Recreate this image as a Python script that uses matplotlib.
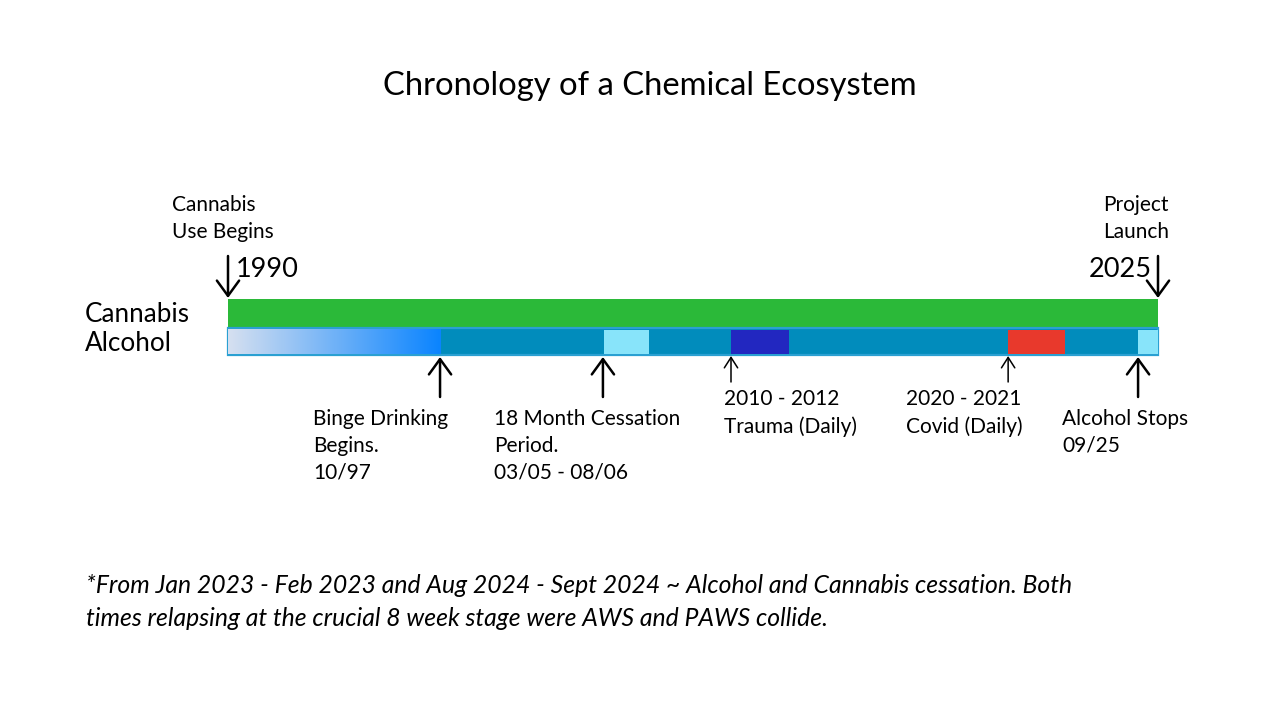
import numpy as np
import matplotlib.pyplot as plt
from matplotlib.colors import LinearSegmentedColormap

plt.rcParams['font.family'] = ['Lato', 'DejaVu Sans']

# timeline data (years)
start_year, end_year = 1990, 2025
binge_start, binge_end = 1990, 1997.98
cessations = [(2004.15, 2005.85), (2024.25, 2025.0)]
trauma = (2008.93, 2011.1)
covid = (2019.36, 2021.5)

rows = ['Cannabis', 'Alcohol']
events_below = [1997.98, 2004.11, 2008.93, 2019.36, 2024.25]
event_labels = ['Binge Drinking\nBegins.\n10/97',
                '18 Month Cessation\nPeriod.\n03/05 - 08/06',
                '2010 - 2012\nTrauma (Daily)',
                '2020 - 2021\nCovid (Daily)',
                'Alcohol Stops\n09/25']
big_arrow = [True, True, False, False, True]
title = 'Chronology of a Chemical Ecosystem'
footnote = ('*From Jan 2023 - Feb 2023 and Aug 2024 - Sept 2024 ~ Alcohol and Cannabis cessation. Both\n'
            'times relapsing at the crucial 8 week stage were AWS and PAWS collide.')

W, H = 1280, 720
fig = plt.figure(figsize=(12.8, 7.2), dpi=100)
ax = fig.add_axes([0, 0, 1, 1])
# map 1990 -> 228px, 2025 -> 1158px
ppy = (1158 - 228) / (end_year - start_year)
ax.set_xlim(start_year - 228 / ppy, start_year + (W - 228) / ppy)
ax.set_ylim(H, 0)
ax.axis('off')

def xp(px):
    return start_year + (px - 228) / ppy

# cannabis bar
ax.barh(313, end_year - start_year, left=start_year, height=28, color='#2bb939', edgecolor='none')
# alcohol bar
ax.barh(341.5, end_year - start_year, left=start_year, height=27, color='#018cbc',
        edgecolor='#2aa0d2', linewidth=1.6, zorder=2)
grad = LinearSegmentedColormap.from_list('g', ['#d6e0f0', '#0a84ff'])
ax.imshow(np.linspace(0, 1, 256)[None, :], extent=[binge_start, binge_end, 354, 329],
          cmap=grad, aspect='auto', zorder=3)
for s, e in cessations:
    ax.barh(341.5, e - s, left=s, height=24, color='#88e4fa', zorder=3)
ax.barh(341.5, trauma[1] - trauma[0], left=trauma[0], height=24, color='#2227c0', zorder=3)
ax.barh(341.5, covid[1] - covid[0], left=covid[0], height=24, color='#e8392c', zorder=3)
ax.set_xlim(start_year - 228 / ppy, start_year + (W - 228) / ppy)
ax.set_ylim(H, 0)

# arrows below the bar
label_x = [313, 494, 724, 906, 1062]
for yr, lab, big, lx in zip(events_below, event_labels, big_arrow, label_x):
    if big:
        style = '->,head_length=1.1,head_width=0.8'
        ax.annotate('', xy=(yr, 357), xytext=(yr, 397),
                    arrowprops=dict(arrowstyle=style, lw=1.8, color='black', shrinkA=0, shrinkB=0))
        ty = 409
    else:
        style = '->,head_length=0.75,head_width=0.48'
        ax.annotate('', xy=(yr, 356), xytext=(yr, 382),
                    arrowprops=dict(arrowstyle=style, lw=1.1, color='black', shrinkA=0, shrinkB=0))
        ty = 389
    ax.text(xp(lx), ty, lab, fontsize=15, va='top', ha='left', linespacing=1.42)

# arrows above the bar
for yr in [start_year, end_year]:
    ax.annotate('', xy=(yr, 298), xytext=(yr, 256),
                arrowprops=dict(arrowstyle='->,head_length=1.1,head_width=0.8', lw=1.8,
                                color='black', shrinkA=0, shrinkB=0))
ax.text(xp(172), 195, 'Cannabis\nUse Begins', fontsize=15, va='top', ha='left', linespacing=1.42)
ax.text(xp(1103), 195, 'Project\nLaunch', fontsize=15, va='top', ha='left', linespacing=1.42)
ax.text(xp(236), 277, str(start_year), fontsize=19.5, va='baseline', ha='left')
ax.text(xp(1152), 277, str(end_year), fontsize=19.5, va='baseline', ha='right')

# row labels
ax.text(xp(85), 322, rows[0], fontsize=18.8, va='baseline', ha='left')
ax.text(xp(85), 351, rows[1], fontsize=18.8, va='baseline', ha='left')

ax.text(xp(650), 95, title, fontsize=23.6, va='baseline', ha='center')
ax.text(xp(86), 574, footnote, fontsize=17.8, va='top', ha='left', style='italic', linespacing=1.5)

fig.savefig('out.png', dpi=100)
